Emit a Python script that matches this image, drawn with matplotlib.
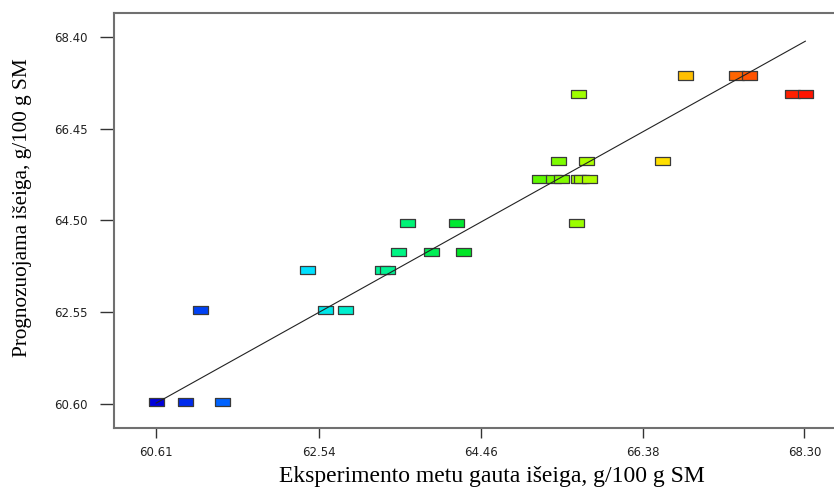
import matplotlib
matplotlib.use('Agg')
import matplotlib.pyplot as plt
from matplotlib.colors import LinearSegmentedColormap, Normalize

# actual (experimental) vs predicted yield
actual = [60.61, 60.96, 61.40, 61.14, 62.62, 62.86, 62.40, 63.29, 63.35, 63.49,
          63.88, 64.25, 63.59, 64.17, 65.59, 65.16, 65.32, 65.42, 65.62, 65.66,
          65.75, 65.38, 65.72, 66.62, 65.62, 68.16, 68.31, 66.89, 67.49, 67.65]
predicted = [60.63, 60.63, 60.63, 62.59, 62.59, 62.59, 63.44, 63.44, 63.44, 63.82,
             63.82, 63.82, 64.44, 64.44, 64.44, 65.38, 65.38, 65.38, 65.38, 65.38,
             65.38, 65.76, 65.76, 65.76, 67.19, 67.19, 67.19, 67.58, 67.58, 67.58]
xticks = [60.61, 62.54, 64.46, 66.38, 68.30]
yticks = [60.60, 62.55, 64.50, 66.45, 68.40]
xlabel = 'Eksperimento metu gauta išeiga, g/100 g SM'
ylabel = 'Prognozuojama išeiga, g/100 g SM'

#blue -> cyan -> green -> yellow -> red, like Design-Expert
lo, hi = 60.61, 68.31
anchors = [(60.61, '#0000dc'), (61.0, '#0032f0'), (61.4, '#0064ff'), (62.4, '#00e1ff'),
           (62.9, '#00f0c8'), (63.5, '#00f582'), (64.25, '#00e628'), (64.9, '#28f000'),
           (65.2, '#64fa00'), (65.7, '#aaff00'), (66.6, '#ffe100'), (66.9, '#ffbe00'),
           (67.5, '#ff6400'), (68.31, '#ff1400')]
cmap = LinearSegmentedColormap.from_list('de', [((v - lo) / (hi - lo), c) for v, c in anchors])

fig = plt.figure(figsize=(8.34, 4.9), dpi=100)
ax = fig.add_axes([114/834, 62/490, 720/834, 415/490])

rect = [(-1, -0.55), (1, -0.55), (1, 0.55), (-1, 0.55), (-1, -0.55)]
ax.scatter(actual, predicted, c=actual, cmap=cmap, norm=Normalize(lo, hi),
           marker=rect, s=10.8**2, edgecolors='#3a3a3a', linewidths=0.9, zorder=3)

# y = x line
ax.plot([min(actual), max(actual)], [min(actual), max(actual)], color='#222222', lw=0.8, zorder=4)

ax.set_xlim(60.11, 68.65)
ax.set_ylim(60.08, 68.91)
ax.set_xticks(xticks)
ax.set_xticklabels(['%.2f' % v for v in xticks])
ax.set_yticks(yticks)
ax.set_yticklabels(['%.2f' % v for v in yticks])

for s in ['left', 'bottom', 'top']:
    ax.spines[s].set_color('#707070')
    ax.spines[s].set_linewidth(1.5)
ax.spines['right'].set_visible(False)

ax.tick_params(axis='x', length=7, width=1, color='#333333', pad=6, labelsize=8.5, labelcolor='#222222')
ax.tick_params(axis='y', length=10, width=1, color='#333333', pad=9, labelsize=8.5, labelcolor='#222222')

ax.set_xlabel(xlabel, family='Liberation Serif', fontsize=17)
ax.set_ylabel(ylabel, family='Liberation Serif', fontsize=15.3)
ax.xaxis.set_label_coords(0.525, -0.092)
ax.yaxis.set_label_coords(-0.114, 0.53)

fig.savefig('out.png', dpi=100)
